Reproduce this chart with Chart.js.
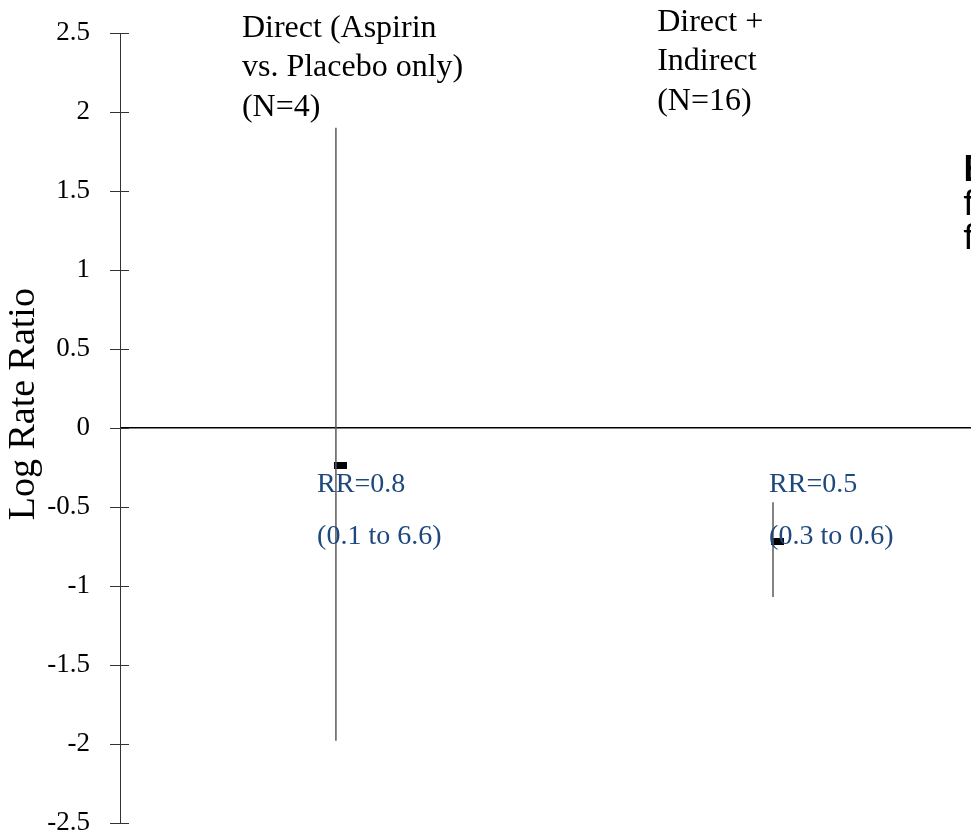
<!DOCTYPE html>
<html>
<head>
<meta charset="utf-8">
<script src="https://cdn.jsdelivr.net/npm/chart.js@4/dist/chart.umd.min.js"></script>
<style>
  html, body { margin: 0; padding: 0; background: #fff; overflow: hidden; }
  canvas { display: block; }
</style>
</head>
<body>
<canvas id="forest" width="971" height="831"></canvas>
<script>
// data (log rate ratio scale)
const studies = ["Direct (Aspirin vs. Placebo only) (N=4)", "Direct + Indirect (N=16)"];
const headerLines = [["Direct (Aspirin", "vs. Placebo only)", "(N=4)"], ["Direct +", "Indirect", "(N=16)"]];
const logRR = [-0.24, -0.72];
const lowerCI = [-1.98, -1.07];
const upperCI = [1.90, -0.47];
const rrText = ["RR=0.8", "RR=0.5"];
const ciText = ["(0.1 to 6.6)", "(0.3 to 0.6)"];
const yTicks = [-2.5, -2, -1.5, -1, -0.5, 0, 0.5, 1, 1.5, 2, 2.5];

const SERIF = "'Liberation Serif', 'Times New Roman', serif";

// small black marker, shifted a bit right of the whisker like the original
const marker = document.createElement("canvas");
marker.width = 22;
marker.height = 7;
const mctx = marker.getContext("2d");
mctx.fillStyle = "#000";
mctx.fillRect(9, 0, 13, 7);

const datasets = studies.map((s, i) => ({
    label: s,
    data: [{ x: i + 1, y: lowerCI[i] }, { x: i + 1, y: upperCI[i] }],
    showLine: true,
    borderColor: "#5a5a5a",
    borderWidth: 1.5,
    pointRadius: 0,
}));
datasets.push({
    label: "estimate",
    data: logRR.map((v, i) => ({ x: i + 1, y: v })),
    pointStyle: marker,
    pointRadius: 5,
    showLine: false,
});

const annotations = {
    id: "annotations",
    afterDraw(chart) {
        const ctx = chart.ctx;
        const xs = chart.scales.x;
        const ys = chart.scales.y;
        ctx.save();

        // cross ticks through the axis line
        ctx.strokeStyle = "#333";
        ctx.lineWidth = 1;
        yTicks.forEach(t => {
            const py = Math.round(ys.getPixelForValue(t)) + 0.5;
            ctx.beginPath();
            ctx.moveTo(xs.left - 10, py);
            ctx.lineTo(xs.left + 9, py);
            ctx.stroke();
        });

        // y axis title
        ctx.fillStyle = "#000";
        ctx.font = "38px " + SERIF;
        ctx.textAlign = "center";
        ctx.textBaseline = "alphabetic";
        ctx.save();
        ctx.translate(34, ys.getPixelForValue(0.15));
        ctx.rotate(-Math.PI / 2);
        ctx.fillText("Log Rate Ratio", 0, 0);
        ctx.restore();

        // group headers
        const headerAt = [{ x: 0.785, y: 2.475 }, { x: 1.735, y: 2.513 }];
        ctx.textAlign = "left";
        ctx.font = "32px " + SERIF;
        headerLines.forEach((lines, i) => {
            const px = xs.getPixelForValue(headerAt[i].x);
            const py = ys.getPixelForValue(headerAt[i].y);
            lines.forEach((l, j) => ctx.fillText(l, px, py + j * 39.5));
        });

        // rate ratio labels
        const rrAt = [{ x: 0.957, y: -0.405 }, { x: 1.991, y: -0.405 }];
        ctx.fillStyle = "#1f497d";
        ctx.font = "28px " + SERIF;
        rrText.forEach((t, i) => {
            const px = xs.getPixelForValue(rrAt[i].x);
            const py = ys.getPixelForValue(rrAt[i].y);
            ctx.fillText(t, px, py);
            ctx.fillText(ciText[i], px, py + 52);
        });

        // text cut off at the right edge of the slide
        ctx.fillStyle = "#000";
        ctx.font = "bold 36px Lato, 'Liberation Sans', sans-serif";
        const rx = chart.width - 8;
        ctx.fillText("E", rx, 181);
        ctx.font = "36px Lato, 'Liberation Sans', sans-serif";
        ctx.fillText("f", rx, 215);
        ctx.fillText("f", rx, 249);
        ctx.restore();
    },
};

new Chart(document.getElementById("forest").getContext("2d"), {
    type: "scatter",
    data: { datasets },
    options: {
        responsive: false,
        animation: false,
        layout: { autoPadding: false, padding: { top: 33, bottom: 8, left: 0, right: 0 } },
        plugins: {
            legend: { display: false },
            tooltip: { enabled: false },
        },
        scales: {
            x: {
                type: "linear",
                display: false,
                min: 0.506,
                max: 2.453,
            },
            y: {
                min: -2.5,
                max: 2.5,
                afterFit(scale) { scale.width = 120; },
                afterBuildTicks(scale) { scale.ticks = yTicks.map(v => ({ value: v })); },
                border: { color: "#333", width: 1 },
                grid: {
                    drawOnChartArea: true,
                    color: c => (c.tick && c.tick.value === 0 ? "#000" : "rgba(0,0,0,0)"),
                    lineWidth: c => (c.tick && c.tick.value === 0 ? 1.5 : 1),
                    tickColor: "rgba(0,0,0,0)",
                    tickLength: 38,
                },
                ticks: {
                    color: "#000",
                    padding: -8,
                    font: { family: SERIF, size: 27 },
                    callback: v => String(v),
                },
            },
        },
    },
    plugins: [annotations],
});
</script>
</body>
</html>
